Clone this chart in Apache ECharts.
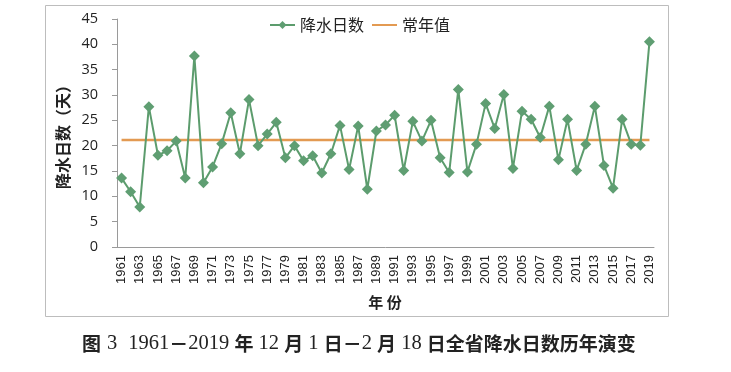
<!DOCTYPE html>
<html>
<head>
<meta charset="utf-8">
<script src="https://cdn.jsdelivr.net/npm/echarts@6/dist/echarts.min.js"></script>
<style>
html,body{margin:0;padding:0;background:#fff;}
#c{width:731px;height:372px;}
</style>
</head>
<body>
<div id="c"></div>
<script>
var years = [];
for (var y = 1961; y <= 2019; y++) years.push(String(y));
var rainDays = [13.6,10.9,7.9,27.7,18.1,19.0,20.9,13.6,37.7,12.7,
  15.8,20.4,26.5,18.4,29.1,20.0,22.3,24.6,17.6,20.0,
  17.0,18.0,14.6,18.4,24.0,15.3,23.9,11.4,22.9,24.1,
  26.0,15.1,24.8,20.9,25.0,17.6,14.7,31.1,14.8,20.3,
  28.3,23.4,30.1,15.5,26.8,25.2,21.6,27.8,17.2,25.2,
  15.1,20.3,27.8,16.1,11.6,25.2,20.3,20.1,40.5];
var normalValue = 21.1;
var normalLine = years.map(function(){ return normalValue; });
var yTicks = {min: 0, max: 45, interval: 5};

var chart = echarts.init(document.getElementById('c'), null, {renderer: 'canvas'});
chart.setOption({
  backgroundColor: '#fff',
  animation: false,
  graphic: [
    {type: 'rect', shape: {x: 45.5, y: 5.5, width: 623, height: 311},
     style: {fill: 'none', stroke: '#bdbdbd', lineWidth: 1}, z: -1},
    {type: 'text', x: 385, y: 302,
     style: {text: '年 份', font: 'bold 15px "Noto Sans CJK SC"', fill: '#222',
       textAlign: 'center', textVerticalAlign: 'middle'}},
    {type: 'text', x: 82, y: 344,
     style: {
       text: '{c|图}{g| }{n|3}{w| }{n|1961}{c|－}{n|2019 }{c|年}{n| 12 }{c|月}{n| 1 }{c|日－}{n|2 }{c|月}{n| 18 }{c|日全省降水日数历年演变}',
       textAlign: 'left', textVerticalAlign: 'middle',
       rich: {
         c: {fontSize: 19, fontWeight: 'bold', fontFamily: '"Noto Sans CJK SC"', fill: '#222', color: '#222'},
         n: {fontSize: 20.5, fontFamily: '"Liberation Serif"', fill: '#222', color: '#222'},
         g: {fontSize: 20, width: 6},
         w: {fontSize: 20, width: 11}
       }
     }}
  ],
  legend: {
    left: 264, top: 12,
    itemWidth: 25, itemHeight: 10, itemGap: 7,
    textStyle: {fontSize: 16, color: '#222', fontFamily: '"Noto Sans CJK SC"'},
    data: [{name: '降水日数'}, {name: '常年值', itemStyle: {opacity: 0}}]
  },
  grid: {left: 117, right: 77, top: 19, bottom: 125, containLabel: false},
  xAxis: {
    type: 'category',
    data: years,
    boundaryGap: true,
    axisLine: {lineStyle: {color: '#9a9a9a', width: 1}},
    axisTick: {interval: 1, length: 5, lineStyle: {color: '#9a9a9a'}},
    axisLabel: {interval: 1, rotate: 90, margin: 8, fontSize: 13, color: '#222',
      fontFamily: '"Liberation Sans", Arial'}
  },
  yAxis: {
    type: 'value',
    min: yTicks.min, max: yTicks.max, interval: yTicks.interval,
    name: '降水日数（天）',
    nameLocation: 'middle', nameGap: 42,
    nameTextStyle: {fontSize: 16, fontWeight: 'bold', color: '#222', fontFamily: '"Noto Sans CJK SC"'},
    axisLine: {show: true, lineStyle: {color: '#9a9a9a', width: 1}},
    axisTick: {show: true, length: 5, lineStyle: {color: '#9a9a9a'}},
    splitLine: {show: false},
    axisLabel: {fontSize: 14.5, color: '#222', margin: 19, fontFamily: '"Open Sans", "Liberation Sans"'}
  },
  series: [
    {
      name: '降水日数', type: 'line', data: rainDays,
      symbol: 'diamond', symbolSize: 11, showAllSymbol: true,
      lineStyle: {color: '#5c9c6d', width: 2},
      itemStyle: {color: '#5f9e72'},
      z: 3
    },
    {
      name: '常年值', type: 'line', data: normalLine,
      symbol: 'none',
      lineStyle: {color: '#e39a52', width: 2.5},
      itemStyle: {color: '#e39a52'},
      z: 2
    }
  ]
});
</script>
</body>
</html>
